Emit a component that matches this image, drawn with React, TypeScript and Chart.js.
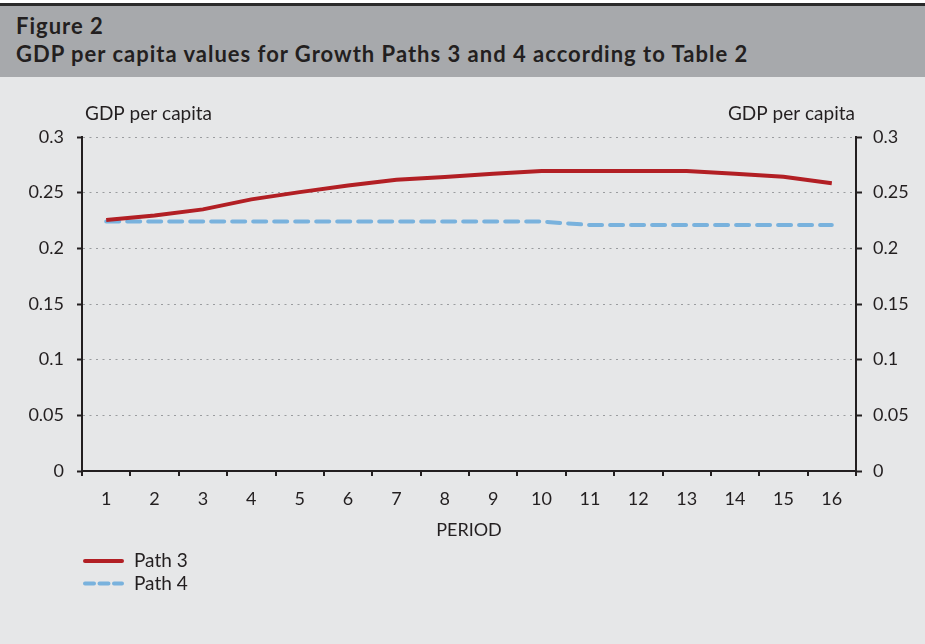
import React, { useEffect, useRef } from "react";
import { Chart, registerables } from "chart.js";

Chart.register(...registerables);

const figureLabel = "Figure 2";
const figureTitle = "GDP per capita values for Growth Paths 3 and 4 according to Table 2";
const yAxisTitle = "GDP per capita";
const xAxisTitle = "PERIOD";

const periods = ["1", "2", "3", "4", "5", "6", "7", "8", "9", "10", "11", "12", "13", "14", "15", "16"];
const path3 = [0.2255, 0.2295, 0.235, 0.244, 0.2505, 0.2565, 0.2615, 0.264, 0.267, 0.2695, 0.2695, 0.2695, 0.2695, 0.267, 0.2642, 0.2585];
const path4 = [0.224, 0.224, 0.224, 0.224, 0.224, 0.224, 0.224, 0.224, 0.224, 0.224, 0.221, 0.221, 0.221, 0.221, 0.221, 0.221];
const seriesNames = ["Path 3", "Path 4"];
const yTickLabels = ["0", "0.05", "0.1", "0.15", "0.2", "0.25", "0.3"];
const yStep = 0.05;

const TEXT = "#231f20";
const FONT = "Lato";

const extrasPlugin = {
  id: "extras",
  afterDraw(chart: any) {
    const { ctx, chartArea } = chart;
    ctx.save();
    ctx.font = `19px ${FONT}`;
    ctx.fillStyle = TEXT;
    ctx.textBaseline = "middle";
    ctx.textAlign = "left";
    ctx.fillText(yAxisTitle, chartArea.left + 3, chartArea.top - 23);
    ctx.textAlign = "right";
    ctx.fillText(yAxisTitle, chartArea.right - 1, chartArea.top - 23);
    chart.data.datasets.forEach((ds: any, i: number) => {
      const y = chartArea.bottom + 90 + i * 22.5;
      ctx.beginPath();
      ctx.strokeStyle = ds.borderColor;
      ctx.lineWidth = 4;
      ctx.lineCap = "round";
      ctx.setLineDash(i === 1 ? [9, 5.5] : []);
      ctx.moveTo(chartArea.left + 3, y);
      ctx.lineTo(chartArea.left + 40, y);
      ctx.stroke();
      ctx.setLineDash([]);
      ctx.textAlign = "left";
      ctx.fillStyle = TEXT;
      ctx.fillText(ds.label, chartArea.left + 52, y);
    });
    ctx.restore();
  },
};

const headerText: React.CSSProperties = {
  position: "absolute",
  left: 16,
  fontFamily: FONT,
  fontWeight: 700,
  fontSize: 22,
  lineHeight: "26px",
  letterSpacing: "1px",
  color: TEXT,
  whiteSpace: "nowrap",
};

export default function App() {
  const ref = useRef<HTMLCanvasElement | null>(null);

  useEffect(() => {
    document.body.style.margin = "0";
    const canvas = ref.current;
    if (!canvas) return;
    const tickFont = { family: FONT, size: 18 };
    const yTickCb = (v: any) => yTickLabels[Math.round(Number(v) / yStep)] ?? "";
    const chart = new Chart(canvas, {
      type: "line",
      data: {
        labels: periods,
        datasets: [
          {
            label: seriesNames[0],
            data: path3,
            borderColor: "#b21f24",
            borderWidth: 4,
            pointRadius: 0,
            tension: 0,
            yAxisID: "y",
          },
          {
            label: seriesNames[1],
            data: path4,
            borderColor: "#79b2dd",
            borderWidth: 4,
            borderDash: [13, 8],
            borderCapStyle: "round",
            pointRadius: 0,
            tension: 0,
            yAxisID: "y",
          },
        ],
      },
      options: {
        responsive: false,
        animation: false,
        devicePixelRatio: 1,
        layout: { padding: { top: 59, bottom: 103, left: 0, right: 0 } },
        plugins: {
          legend: { display: false },
          tooltip: { enabled: false },
        },
        scales: {
          x: {
            type: "category",
            offset: true,
            grid: {
              offset: true,
              drawOnChartArea: false,
              color: TEXT,
              lineWidth: 2,
              tickLength: 5,
            },
            border: { color: TEXT, width: 2 },
            ticks: { font: tickFont, color: TEXT, padding: 12, maxRotation: 0, autoSkip: false },
            title: {
              display: true,
              text: xAxisTitle,
              font: { family: FONT, size: 18 },
              color: TEXT,
              padding: { top: 0, bottom: 0 },
            },
            afterFit: (s: any) => {
              s.height = 70;
            },
          },
          y: {
            position: "left",
            min: 0,
            max: 0.3,
            ticks: { stepSize: yStep, font: tickFont, color: TEXT, padding: 13, callback: yTickCb },
            grid: {
              color: "#9a9c9f",
              lineWidth: 1,
              tickColor: TEXT,
              tickWidth: 2,
              tickLength: 5,
              tickBorderDash: [],
            },
            border: { color: TEXT, width: 2, dash: [2, 4.5] },
            afterFit: (s: any) => {
              s.width = 82;
            },
          },
          y2: {
            position: "right",
            min: 0,
            max: 0.3,
            ticks: { stepSize: yStep, font: tickFont, color: TEXT, padding: 11, callback: yTickCb },
            grid: {
              drawOnChartArea: false,
              color: TEXT,
              tickColor: TEXT,
              tickWidth: 2,
              tickLength: 6,
            },
            border: { color: TEXT, width: 2 },
            afterFit: (s: any) => {
              s.width = 69;
            },
          },
        },
      },
      plugins: [extrasPlugin],
    } as any);
    return () => chart.destroy();
  }, []);

  return (
    <div style={{ position: "relative", width: 925, height: 644, background: "#e6e7e8", overflow: "hidden" }}>
      <div style={{ position: "absolute", left: 0, top: 0, width: 925, height: 3, background: "#ffffff" }} />
      <div style={{ position: "absolute", left: 0, top: 3, width: 925, height: 3, background: "#2b2b2b" }} />
      <div style={{ position: "absolute", left: 0, top: 6, width: 925, height: 71, background: "#a7a9ac" }} />
      <div style={{ ...headerText, top: 13 }}>{figureLabel}</div>
      <div style={{ ...headerText, top: 41 }}>{figureTitle}</div>
      <canvas
        ref={ref}
        width={925}
        height={566}
        style={{ position: "absolute", left: 0, top: 78, width: 925, height: 566 }}
      />
    </div>
  );
}
